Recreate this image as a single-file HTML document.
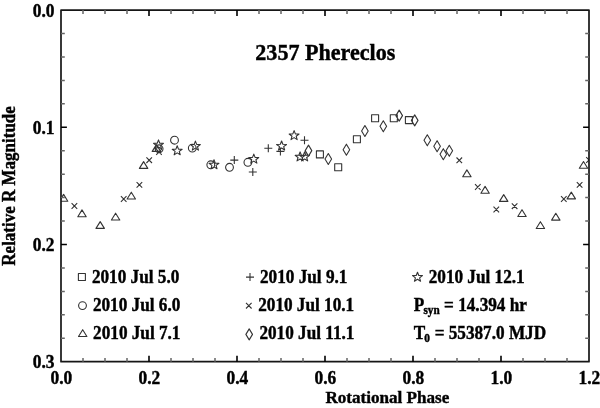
<!DOCTYPE html>
<html><head><meta charset="utf-8"><style>
html,body{margin:0;padding:0;background:#fff;width:600px;height:408px;overflow:hidden}
svg{display:block;will-change:transform}
text{font-family:"Liberation Serif",serif;font-weight:bold;fill:#000;stroke:#000;stroke-width:0.4px}
</style></head><body><svg width="600" height="408" viewBox="0 0 600 408"><defs><clipPath id="c"><rect x="61.0" y="10.1" width="528.0" height="351.59999999999997"/></clipPath></defs><path clip-path="url(#c)" d="M63.60 194.40L67.80 201.20L59.40 201.20ZM71.60 203.20L77.20 208.80M71.60 208.80L77.20 203.20M82.00 209.90L86.20 216.70L77.80 216.70ZM100.20 221.60L104.40 228.40L96.00 228.40ZM115.60 213.20L119.80 220.00L111.40 220.00ZM120.90 196.20L126.50 201.80M120.90 201.80L126.50 196.20M131.30 192.20L135.50 199.00L127.10 199.00ZM136.60 182.10L142.20 187.70M136.60 187.70L142.20 182.10M143.60 161.60L147.80 168.40L139.40 168.40ZM146.40 157.40L152.00 163.00M146.40 163.00L152.00 157.40M156.40 144.60L160.60 151.40L152.20 151.40ZM158.50 139.90L159.78 143.18L163.45 143.34L160.58 145.52L161.56 148.90L158.50 146.96L155.44 148.90L156.42 145.52L153.55 143.34L157.22 143.18ZM155.20 148.80a3.9 3.9 0 1 0 7.8 0a3.9 3.9 0 1 0 -7.8 0ZM156.20 149.20L161.80 154.80M156.20 154.80L161.80 149.20M170.60 140.20a3.9 3.9 0 1 0 7.8 0a3.9 3.9 0 1 0 -7.8 0ZM177.20 145.80L178.48 149.08L182.15 149.24L179.28 151.42L180.26 154.80L177.20 152.86L174.14 154.80L175.12 151.42L172.25 149.24L175.92 149.08ZM188.40 148.10a3.9 3.9 0 1 0 7.8 0a3.9 3.9 0 1 0 -7.8 0ZM195.40 141.10L196.68 144.38L200.35 144.54L197.48 146.72L198.46 150.10L195.40 148.16L192.34 150.10L193.32 146.72L190.45 144.54L194.12 144.38ZM206.90 164.80a3.9 3.9 0 1 0 7.8 0a3.9 3.9 0 1 0 -7.8 0ZM214.00 159.80L215.28 163.08L218.95 163.24L216.08 165.42L217.06 168.80L214.00 166.86L210.94 168.80L211.92 165.42L209.05 163.24L212.72 163.08ZM225.60 167.30a3.9 3.9 0 1 0 7.8 0a3.9 3.9 0 1 0 -7.8 0ZM230.30 160.10h8.0M234.30 156.10v8.0M244.00 162.30a3.9 3.9 0 1 0 7.8 0a3.9 3.9 0 1 0 -7.8 0ZM253.80 154.10L255.08 157.38L258.75 157.54L255.88 159.72L256.86 163.10L253.80 161.16L250.74 163.10L251.72 159.72L248.85 157.54L252.52 157.38ZM248.80 172.00h8.0M252.80 168.00v8.0M264.30 148.30h8.0M268.30 144.30v8.0M281.60 141.00L282.88 144.28L286.55 144.44L283.68 146.62L284.66 150.00L281.60 148.06L278.54 150.00L279.52 146.62L276.65 144.44L280.32 144.28ZM276.40 151.40h8.0M280.40 147.40v8.0M294.10 130.60L295.38 133.88L299.05 134.04L296.18 136.22L297.16 139.60L294.10 137.66L291.04 139.60L292.02 136.22L289.15 134.04L292.82 133.88ZM300.50 140.30h8.0M304.50 136.30v8.0M300.10 151.90L301.38 155.18L305.05 155.34L302.18 157.52L303.16 160.90L300.10 158.96L297.04 160.90L298.02 157.52L295.15 155.34L298.82 155.18ZM304.60 151.90L305.88 155.18L309.55 155.34L306.68 157.52L307.66 160.90L304.60 158.96L301.54 160.90L302.52 157.52L299.65 155.34L303.32 155.18ZM308.50 145.10L311.80 150.60L308.50 156.10L305.20 150.60ZM316.40 150.90h7.0v7.0h-7.0ZM328.30 153.50L331.60 159.00L328.30 164.50L325.00 159.00ZM334.70 163.70h7.0v7.0h-7.0ZM346.40 144.20L349.70 149.70L346.40 155.20L343.10 149.70ZM353.40 135.70h7.0v7.0h-7.0ZM364.90 125.50L368.20 131.00L364.90 136.50L361.60 131.00ZM371.60 114.70h7.0v7.0h-7.0ZM383.30 120.80L386.60 126.30L383.30 131.80L380.00 126.30ZM390.30 114.70h7.0v7.0h-7.0ZM399.20 110.10L402.50 115.60L399.20 121.10L395.90 115.60ZM405.40 116.60h7.0v7.0h-7.0ZM414.70 114.90L418.00 120.40L414.70 125.90L411.40 120.40ZM427.30 134.80L430.60 140.30L427.30 145.80L424.00 140.30ZM437.10 140.70L440.40 146.20L437.10 151.70L433.80 146.20ZM443.30 148.70L446.60 154.20L443.30 159.70L440.00 154.20ZM449.30 145.30L452.60 150.80L449.30 156.30L446.00 150.80ZM456.50 157.50L462.10 163.10M456.50 163.10L462.10 157.50M466.90 169.90L471.10 176.70L462.70 176.70ZM475.00 184.20L480.60 189.80M475.00 189.80L480.60 184.20M485.10 186.40L489.30 193.20L480.90 193.20ZM503.70 194.60L507.90 201.40L499.50 201.40ZM493.50 206.70L499.10 212.30M493.50 212.30L499.10 206.70M511.80 203.40L517.40 209.00M511.80 209.00L517.40 203.40M522.00 209.70L526.20 216.50L517.80 216.50ZM540.40 221.70L544.60 228.50L536.20 228.50ZM555.80 213.30L560.00 220.10L551.60 220.10ZM561.00 196.20L566.60 201.80M561.00 201.80L566.60 196.20M571.30 192.10L575.50 198.90L567.10 198.90ZM576.80 182.10L582.40 187.70M576.80 187.70L582.40 182.10M583.50 161.50L587.70 168.30L579.30 168.30ZM586.20 157.20L591.80 162.80M586.20 162.80L591.80 157.20" fill="none" stroke="#333" stroke-width="1.1" stroke-linejoin="round"/><rect x="61.0" y="10.1" width="528.0" height="351.59999999999997" fill="none" stroke="#161616" stroke-width="1.7" stroke-linejoin="round"/><path d="M149.00 361.7v-5.9M149.00 10.1v5.9M237.00 361.7v-5.9M237.00 10.1v5.9M325.00 361.7v-5.9M325.00 10.1v5.9M413.00 361.7v-5.9M413.00 10.1v5.9M501.00 361.7v-5.9M501.00 10.1v5.9M61.0 127.30h5.9M589.0 127.30h-5.9M61.0 244.50h5.9M589.0 244.50h-5.9" stroke="#000" stroke-width="1.6" fill="none"/><path d="M83.00 361.7v-3.8M83.00 10.1v3.8M105.00 361.7v-3.8M105.00 10.1v3.8M127.00 361.7v-3.8M127.00 10.1v3.8M171.00 361.7v-3.8M171.00 10.1v3.8M193.00 361.7v-3.8M193.00 10.1v3.8M215.00 361.7v-3.8M215.00 10.1v3.8M259.00 361.7v-3.8M259.00 10.1v3.8M281.00 361.7v-3.8M281.00 10.1v3.8M303.00 361.7v-3.8M303.00 10.1v3.8M347.00 361.7v-3.8M347.00 10.1v3.8M369.00 361.7v-3.8M369.00 10.1v3.8M391.00 361.7v-3.8M391.00 10.1v3.8M435.00 361.7v-3.8M435.00 10.1v3.8M457.00 361.7v-3.8M457.00 10.1v3.8M479.00 361.7v-3.8M479.00 10.1v3.8M523.00 361.7v-3.8M523.00 10.1v3.8M545.00 361.7v-3.8M545.00 10.1v3.8M567.00 361.7v-3.8M567.00 10.1v3.8M61.0 33.54h3.8M589.0 33.54h-3.8M61.0 56.98h3.8M589.0 56.98h-3.8M61.0 80.42h3.8M589.0 80.42h-3.8M61.0 103.86h3.8M589.0 103.86h-3.8M61.0 150.74h3.8M589.0 150.74h-3.8M61.0 174.18h3.8M589.0 174.18h-3.8M61.0 197.62h3.8M589.0 197.62h-3.8M61.0 221.06h3.8M589.0 221.06h-3.8M61.0 267.94h3.8M589.0 267.94h-3.8M61.0 291.38h3.8M589.0 291.38h-3.8M61.0 314.82h3.8M589.0 314.82h-3.8M61.0 338.26h3.8M589.0 338.26h-3.8" stroke="#666" stroke-width="1.5" fill="none"/><text transform="translate(54.55 16.70) scale(1.0 1.05)"  font-size="17.4" text-anchor="end">0.0</text><text transform="translate(54.55 133.90) scale(1.0 1.05)"  font-size="17.4" text-anchor="end">0.1</text><text transform="translate(54.55 251.10) scale(1.0 1.05)"  font-size="17.4" text-anchor="end">0.2</text><text transform="translate(54.55 368.30) scale(1.0 1.05)"  font-size="17.4" text-anchor="end">0.3</text><text transform="translate(61.30 383.70) scale(1.0 1.03)"  font-size="17.4" text-anchor="middle">0.0</text><text transform="translate(149.30 383.70) scale(1.0 1.03)"  font-size="17.4" text-anchor="middle">0.2</text><text transform="translate(237.30 383.70) scale(1.0 1.03)"  font-size="17.4" text-anchor="middle">0.4</text><text transform="translate(325.30 383.70) scale(1.0 1.03)"  font-size="17.4" text-anchor="middle">0.6</text><text transform="translate(413.30 383.70) scale(1.0 1.03)"  font-size="17.4" text-anchor="middle">0.8</text><text transform="translate(501.30 383.70) scale(1.0 1.03)"  font-size="17.4" text-anchor="middle">1.0</text><text transform="translate(589.30 383.70) scale(1.0 1.03)"  font-size="17.4" text-anchor="middle">1.2</text><text transform="translate(325.40 403.00) scale(1.0 1.0)"  font-size="17.1">Rotational Phase</text><text transform="translate(14.7 185.9) rotate(-90) scale(1 1.05)"  font-size="17.0" text-anchor="middle">Relative R Magnitude</text><text transform="translate(255.30 60.00) scale(1.0 1.04)"  font-size="22.1">2357 Phereclos</text><text transform="translate(91.90 282.60) scale(1.0 1.04)"  font-size="17.2">2010 Jul 5.0</text><text transform="translate(92.90 310.80) scale(1.0 1.04)"  font-size="17.2">2010 Jul 6.0</text><text transform="translate(93.10 339.10) scale(1.0 1.04)"  font-size="17.2">2010 Jul 7.1</text><text transform="translate(260.00 282.60) scale(1.0 1.04)"  font-size="17.2">2010 Jul 9.1</text><text transform="translate(258.20 310.80) scale(1.0 1.04)"  font-size="17.2">2010 Jul 10.1</text><text transform="translate(259.40 339.10) scale(1.0 1.04)"  font-size="17.2">2010 Jul 11.1</text><text transform="translate(428.70 282.60) scale(1.0 1.04)"  font-size="17.2">2010 Jul 12.1</text><text transform="translate(413.80 310.80) scale(1.0 1.04)"  font-size="17.2">P</text><text transform="translate(444.10 310.80) scale(1.0 1.04)"  font-size="17.2">= 14.394 hr</text><text transform="translate(413.80 339.30) scale(1.0 1.04)"  font-size="17.2">T</text><text transform="translate(434.65 339.30) scale(1.0 1.04)"  font-size="17.2">= 55387.0 MJD</text><text transform="translate(423.50 313.90) scale(1.0 1.04)"  font-size="11.2">syn</text><text transform="translate(424.20 342.10) scale(1.0 1.04)"  font-size="11.4">0</text><path d="M78.40 273.50h7.0v7.0h-7.0ZM78.60 305.60a3.9 3.9 0 1 0 7.8 0a3.9 3.9 0 1 0 -7.8 0ZM82.70 329.70L86.90 336.50L78.50 336.50ZM246.00 277.10h8.0M250.00 273.10v8.0M246.00 302.90L251.60 308.50M246.00 308.50L251.60 302.90M249.20 328.90L252.50 334.40L249.20 339.90L245.90 334.40ZM417.50 272.20L418.78 275.48L422.45 275.64L419.58 277.82L420.56 281.20L417.50 279.26L414.44 281.20L415.42 277.82L412.55 275.64L416.22 275.48Z" fill="none" stroke="#333" stroke-width="1.1" stroke-linejoin="round"/></svg></body></html>
